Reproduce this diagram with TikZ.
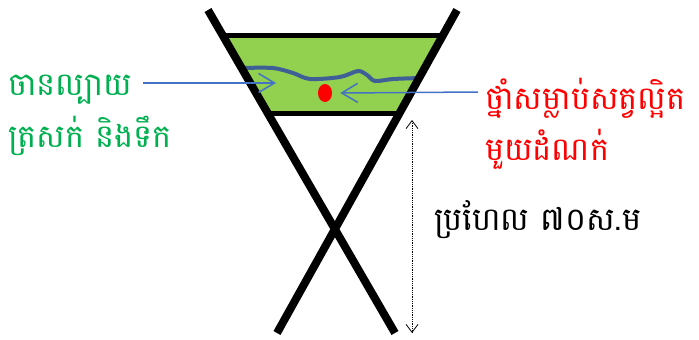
\documentclass[tikz,border=0pt]{standalone}
\usepackage{fontspec}
\newfontfamily\khmerfont[Script=Khmer]{Battambang}
\usetikzlibrary{arrows.meta, shapes.geometric}
\definecolor{bowlgreen}{RGB}{146,208,80}
\definecolor{wavyblue}{RGB}{62,96,150}
\definecolor{pointblue}{RGB}{68,114,196}
\definecolor{textgreen}{RGB}{0,176,80}
\tikzset{
    khtext/.style={font=\khmerfont\fontsize{32}{38}\selectfont, inner sep=0pt, anchor=base west},
    stick/.style={line width=8pt},
    pointer/.style={pointblue, line width=1.5pt, -{Straight Barb[length=16pt, width=19pt, line width=1.5pt]}}
}
\begin{document}
\begin{tikzpicture}[x=1pt, y=-1pt]
    \useasboundingbox (0,0) rectangle (699,340);
    % Chậu nước màu xanh
    \fill[bowlgreen] (222.5,35) -- (443,35) -- (399.6,113) -- (267.6,113) -- cycle;
    \draw[line width=5pt] (222,35) -- (443,35);
    \draw[line width=5pt] (267,113) -- (400,113);
    % Mặt nước
    \draw[wavyblue, line width=4pt] plot[smooth, tension=0.5] coordinates
        {(242,68) (273,68) (293,73) (310,79) (340,77) (358,71) (367,75) (375,81) (393,79) (420,78)};
    % Giọt thuốc
    \node[fill=red, ellipse, minimum width=14pt, minimum height=18pt, inner sep=0pt] (dot) at (325,93) {};
    % Hai thanh chân
    \draw[stick] (208,10) -- (395,333);
    \draw[stick] (457,10) -- (277,333);
    % Chữ
    \node[khtext, textgreen] (mix1) at (8,95) {ចានល្បាយ};
    \node[khtext, textgreen] (mix2) at (8,147) {ត្រសក់ និងទឹក};
    \node[khtext, red] (drop1) at (485,109) {ថ្នាំសម្លាប់សត្វល្អិត};
    \node[khtext, red] (drop2) at (485,160) {មួយដំណក់};
    \node[khtext] (height) at (434,230) {ប្រហែល ៧០ស.ម};
    % Mũi tên
    \coordinate (mixtip) at (276,83);
    \coordinate (droptail) at (478,92);
    \coordinate (top) at (412,120);
    \coordinate (bottom) at (412,333);
    \draw[pointer] (143,83) -- (mixtip);
    \draw[pointer] (droptail) -- ([xshift=8pt]dot.east);
    \draw[densely dotted, line width=0.8pt, {Straight Barb[length=8pt, width=12pt, line width=0.8pt]}-{Straight Barb[length=8pt, width=12pt, line width=0.8pt]}] (top) -- (bottom);
\end{tikzpicture}
\end{document}
